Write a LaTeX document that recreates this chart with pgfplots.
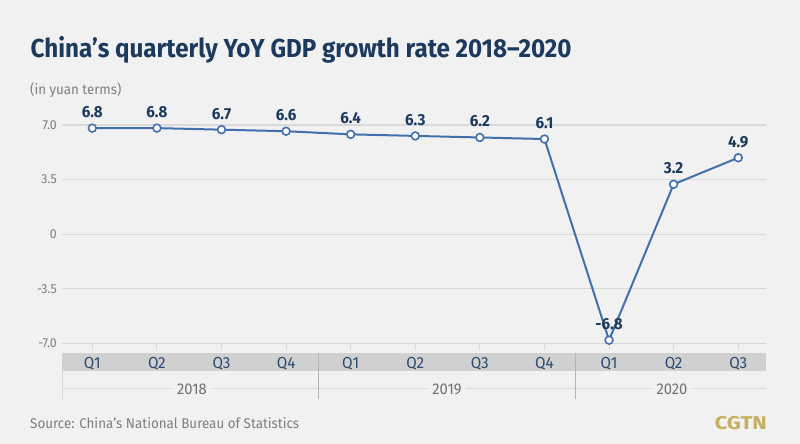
\documentclass[border=0pt]{standalone}
\usepackage{pgfplots}
\pgfplotsset{compat=1.18}
\usepackage{fontspec}
\setmainfont[FakeStretch=0.95]{Fira Sans}
\newfontfamily\titlefont[FakeStretch=0.93]{Fira Sans}
\newfontfamily\logofont[FakeStretch=1.18]{Fira Sans}
\definecolor{bg}{HTML}{F1F1F1}
\definecolor{navy}{HTML}{1B3A5E}
\definecolor{qnavy}{HTML}{2A4A70}
\definecolor{linec}{HTML}{4270AD}
\definecolor{gridc}{HTML}{D9D9D9}
\definecolor{band}{HTML}{D0D0D0}
\definecolor{sepc}{HTML}{B4B4B4}
\definecolor{txtgray}{HTML}{7E7E7E}
\definecolor{gold}{HTML}{C6AF5E}
\begin{document}
\begin{tikzpicture}[x=1pt,y=1pt]
\fill[bg] (0,0) rectangle (800,444);
% category band
\fill[band] (62,73) rectangle (766,91);
\draw[gridc, line width=1pt] (62,55) -- (766,55);
\draw[gridc, line width=1pt] (62,73) -- (62,45);
\draw[sepc, line width=1pt] (318.5,91) -- (318.5,45);
\draw[sepc, line width=1pt] (575,91) -- (575,45);
\foreach \yx/\yl in {192/2018, 447/2019, 672/2020}{
  \node[fill=bg, inner xsep=4pt, inner ysep=1pt, text=txtgray!90!black, font=\fontsize{15.5}{18}\selectfont] at (\yx,55) {\yl};
}
% title and texts
\node[anchor=base west, inner sep=0, text=navy, font=\fontsize{26}{30}\titlefont\bfseries] at (30.5,386.7) {China’s quarterly YoY GDP growth rate 2018–2020};
\node[anchor=base west, inner sep=0, text=txtgray, font=\fontsize{14}{17}\selectfont] at (30,349.5) {(in yuan terms)};
\node[anchor=base west, inner sep=0, text=txtgray, font=\fontsize{14.1}{17}\selectfont] at (30,15) {Source: China’s National Bureau of Statistics};
\node[anchor=base east, inner sep=0, text=gold, font=\fontsize{18.5}{20}\logofont\bfseries] at (767,14) {CGTN};
\begin{axis}[
  at={(62pt,100.7pt)}, anchor=south west,
  scale only axis, width=704pt, height=218.3pt,
  xmin=-0.469, xmax=10.43, ymin=-7, ymax=7,
  clip=false,
  axis line style={draw=none},
  major tick length=0pt,
  ytick={-7,-3.5,0,3.5,7},
  yticklabels={-7.0,-3.5,0,3.5,7.0},
  ymajorgrids,
  grid style={gridc, line width=1.2pt},
  xtick={0,...,10},
  xticklabels={Q1,Q2,Q3,Q4,Q1,Q2,Q3,Q4,Q1,Q2,Q3},
  yticklabel style={font=\fontsize{13}{15}\selectfont, text=txtgray, anchor=east, inner sep=0pt, xshift=-5pt},
  xticklabel style={font=\fontsize{16}{18}\selectfont, text=qnavy, anchor=base, inner sep=0pt, yshift=-25pt},
]
\pgfplotsinvokeforeach{0,...,10}{
  \draw[gridc, line width=1pt] (axis cs:#1,-7) -- ++(0pt,-7pt);
}
\addplot[linec, line width=2pt, mark=*, mark size=3.9pt,
  mark options={fill=white, draw=linec, line width=1.6pt},
  point meta=y,
  nodes near coords={\pgfmathprintnumber[fixed,fixed zerofill,precision=1,assume math mode=true]{\pgfplotspointmeta}},
  every node near coord/.append style={anchor=center, yshift=16pt, text=navy, font=\fontsize{16}{18}\selectfont\bfseries},
] coordinates {(0,6.8)(1,6.8)(2,6.7)(3,6.6)(4,6.4)(5,6.3)(6,6.2)(7,6.1)(8,-6.8)(9,3.2)(10,4.9)};
\end{axis}
\end{tikzpicture}
\end{document}
